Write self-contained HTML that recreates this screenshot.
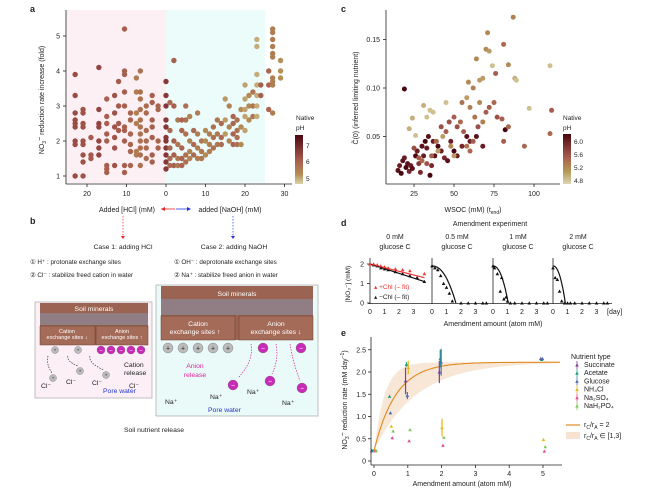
<!DOCTYPE html>
<html><head><meta charset="utf-8"><style>
html,body{margin:0;padding:0;background:#fff}
svg{display:block;font-family:"Liberation Sans",sans-serif}
text{fill:#222}
</style></head><body>
<svg id="fig" width="672" height="492" viewBox="0 0 672 492" xmlns="http://www.w3.org/2000/svg">
<g id="pa">
 <text x="30" y="12" font-size="9" font-weight="bold">a</text>
 <rect x="67" y="10" width="99" height="173" fill="#fdf0f5"/>
 <rect x="166" y="10" width="99" height="173" fill="#ebfcfb"/>
 <g id="aDots"></g>
 <line x1="66" y1="10" x2="66" y2="184" stroke="#222" stroke-width="0.8"/>
 <line x1="66" y1="184" x2="292" y2="184" stroke="#222" stroke-width="0.8"/>
 <g id="aAxes" font-size="7"></g>
 <text transform="translate(44,100) rotate(-90)" font-size="7" text-anchor="middle">NO<tspan font-size="5" dy="2">3</tspan><tspan dy="-4">−</tspan><tspan dy="2"> reduction rate increase (fold)</tspan></text>
 <text x="296" y="120" font-size="6.5">Native</text>
 <text x="296" y="130" font-size="6.5">pH</text>
 <rect x="295" y="135" width="8" height="49" fill="url(#gradA)"/>
 <text x="306" y="148" font-size="6.5">7</text><text x="306" y="164" font-size="6.5">6</text><text x="306" y="181" font-size="6.5">5</text>
 <text x="127" y="212" font-size="7" text-anchor="middle">Added [HCl] (mM)</text>
 <line x1="175" y1="209" x2="161" y2="209" stroke="#e22" stroke-width="0.8"/><path d="M161 209l4-2v4z" fill="#e22"/>
 <line x1="176" y1="209" x2="190" y2="209" stroke="#23d" stroke-width="0.8"/><path d="M191 209l-4-2v4z" fill="#23d"/>
 <text x="230" y="212" font-size="7" text-anchor="middle">added [NaOH] (mM)</text>
</g>
<g id="pb" font-size="6.8">
 <text x="30" y="224" font-size="9" font-weight="bold">b</text>
 <line x1="123" y1="216" x2="123" y2="237" stroke="#e22" stroke-dasharray="1.5,1.5" stroke-width="0.7"/>
 <line x1="233" y1="216" x2="233" y2="237" stroke="#23d" stroke-dasharray="1.5,1.5" stroke-width="0.7"/>
 <path d="M121 236l2 3 2-3z" fill="#e22"/><path d="M231 236l2 3 2-3z" fill="#23d"/>
 <text x="123" y="249" text-anchor="middle">Case 1: adding HCl</text>
 <text x="234" y="249" text-anchor="middle">Case 2: adding NaOH</text>
 <text x="30" y="264" font-size="6.3">① H⁺ : protonate exchange sites</text>
 <text x="30" y="277" font-size="6.3">② Cl⁻ : stabilize freed cation in water</text>
 <text x="174" y="264" font-size="6.3">① OH⁻ : deprotonate exchange sites</text>
 <text x="174" y="277" font-size="6.3">② Na⁺ : stabilize freed anion in water</text>
 <rect x="35" y="302" width="117" height="96" fill="#fcf0f6" stroke="#999" stroke-width="0.6"/>
 <rect x="40" y="303" width="108" height="42" fill="#9b6351"/>
 <rect x="40" y="313" width="108" height="12" fill="#8a8fa6" opacity="0.6"/>
 <text x="94" y="311" text-anchor="middle" fill="#fff" style="fill:#fff">Soil minerals</text>
 <rect x="40" y="326" width="55" height="19" fill="#a36b58" stroke="#6b3e30" stroke-width="0.5"/>
 <rect x="96" y="326" width="52" height="19" fill="#a36b58" stroke="#6b3e30" stroke-width="0.5"/>
 <text x="67" y="333" text-anchor="middle" font-size="5.5" style="fill:#fff">Cation</text>
 <text x="67" y="339" text-anchor="middle" font-size="5.5" style="fill:#fff">exchange sites ↓</text>
 <text x="122" y="333" text-anchor="middle" font-size="5.5" style="fill:#fff">Anion</text>
 <text x="122" y="339" text-anchor="middle" font-size="5.5" style="fill:#fff">exchange sites ↑</text>
 <g id="bLeft"></g>
 <text x="124" y="367">Cation</text><text x="124" y="375">release</text>
 <text x="103" y="393" font-size="6.8" style="fill:#2233cc">Pore water</text>
 <text x="41" y="388">Cl⁻</text><text x="66" y="384">Cl⁻</text><text x="92" y="385">Cl⁻</text><text x="129" y="388">Cl⁻</text>
 <rect x="156" y="285" width="162" height="131" fill="#eafaf9" stroke="#999" stroke-width="0.6"/>
 <rect x="161" y="286" width="152" height="54" fill="#9b6351"/>
 <rect x="161" y="299" width="152" height="16" fill="#8a8fa6" opacity="0.6"/>
 <text x="237" y="296" text-anchor="middle" style="fill:#fff">Soil minerals</text>
 <rect x="161" y="316" width="74" height="24" fill="#a36b58" stroke="#6b3e30" stroke-width="0.5"/>
 <rect x="239" y="316" width="74" height="24" fill="#a36b58" stroke="#6b3e30" stroke-width="0.5"/>
 <text x="198" y="326" text-anchor="middle" style="fill:#fff">Cation</text>
 <text x="195" y="334" text-anchor="middle" style="fill:#fff">exchange sites ↑</text>
 <text x="276" y="326" text-anchor="middle" style="fill:#fff">Anion</text>
 <text x="276" y="334" text-anchor="middle" style="fill:#fff">exchange sites ↓</text>
 <g id="bRight"></g>
 <text x="195" y="368" text-anchor="middle" style="fill:#e0229a">Anion</text>
 <text x="195" y="377" text-anchor="middle" style="fill:#e0229a">release</text>
 <text x="165" y="404">Na⁺</text><text x="210" y="399">Na⁺</text><text x="247" y="394">Na⁺</text><text x="282" y="405">Na⁺</text>
 <text x="208" y="412" style="fill:#2233cc">Pore water</text>
 <text x="154" y="432" text-anchor="middle">Soil nutrient release</text>
</g>
<g id="pc">
 <text x="341" y="12" font-size="9" font-weight="bold">c</text>
 <g id="cDots"></g>
 <line x1="386" y1="10" x2="386" y2="184" stroke="#222" stroke-width="0.8"/>
 <line x1="386" y1="184" x2="560" y2="184" stroke="#222" stroke-width="0.8"/>
 <g id="cAxes" font-size="7"></g>
 <text transform="translate(358,98) rotate(-90)" font-size="7" text-anchor="middle">C̃(0) (inferred limiting nutrient)</text>
 <text x="473" y="212" font-size="7" text-anchor="middle">WSOC (mM) (t<tspan font-size="5" dy="2">end</tspan><tspan dy="-2">)</tspan></text>
 <text x="563" y="120" font-size="6.5">Native</text><text x="563" y="130" font-size="6.5">pH</text>
 <rect x="563" y="134" width="8" height="50" fill="url(#gradC)"/>
 <text x="574" y="144" font-size="6.5">6.0</text><text x="574" y="157" font-size="6.5">5.6</text><text x="574" y="170" font-size="6.5">5.2</text><text x="574" y="183" font-size="6.5">4.8</text>
</g>
<g id="pd">
 <text x="341" y="226" font-size="9" font-weight="bold">d</text>
 <text x="490" y="226" font-size="7" text-anchor="middle">Amendment experiment</text>
 <g id="dMarks" font-size="7"></g>
 <text x="493" y="326" font-size="7" text-anchor="middle">Amendment amount (atom mM)</text>
</g>
<g id="pe">
 <text x="341" y="336" font-size="9" font-weight="bold">e</text>
 <g id="eMarks" font-size="7"></g>
 <line x1="371" y1="337" x2="371" y2="465" stroke="#222" stroke-width="0.8"/>
 <line x1="371" y1="465" x2="562" y2="465" stroke="#222" stroke-width="0.8"/>
 <text transform="translate(347,400) rotate(-90)" font-size="7" text-anchor="middle">NO<tspan font-size="5" dy="2">3</tspan><tspan dy="-4">−</tspan><tspan dy="2"> reduction rate (mM day</tspan><tspan font-size="5" dy="-3">−1</tspan><tspan dy="3">)</tspan></text>
 <text x="462" y="486" font-size="7" text-anchor="middle">Amendment amount (atom mM)</text>
 <g id="eLegend" font-size="7"></g>
</g>
<defs>
 <linearGradient id="gradA" x1="0" y1="0" x2="0" y2="1"><stop offset="0" stop-color="#4a0610"/><stop offset="0.5" stop-color="#a65a4d"/><stop offset="0.8" stop-color="#b48d55"/><stop offset="1" stop-color="#d9d2a8"/></linearGradient>
 <linearGradient id="gradC" x1="0" y1="0" x2="0" y2="1"><stop offset="0" stop-color="#4a0610"/><stop offset="0.45" stop-color="#a65a4d"/><stop offset="0.75" stop-color="#b49a55"/><stop offset="1" stop-color="#dcd6b4"/></linearGradient>
</defs>
</svg>
<script>
// ---------- Panel a data ----------
const aHclX=[23,21,19,17,15,13,12,10.5,9,7.5,6.5,5,3.5,2,0];
const aHclY=[[3.9,3.3,2.8,2.6,2.5,2.4,2.0,1.9,1.0],[2.9,2.8,2.5,2.4,2.0,1.9,1.6,1.4,1.0],[2.1,1.6,1.5],[4.1,2.9,2.5,2.4,2.0,1.8,1.6],[3.2,2.7,2.5,2.2,2.0,1.3,1.2,1.1],[3.3,2.8,2.4,2.1,1.8,1.3],[3.7,3.0,2.5,2.3],[5.2,4.0,3.9,3.4,3.0,2.4,2.3,2.0,1.3,1.1],[2.8,2.6,2.2,1.9,1.7,1.3],[3.8,3.4,2.8,2.5,1.7,1.6],[4.0,3.4,3.2,2.9,2.6,2.4,2.2,2.0,1.8,1.6,1.3],[3.0,2.8,2.3,2.0,1.8,1.5],[3.3,3.1,2.6,2.4,2.1,1.6,1.4],[3.0,2.9,2.0,1.8],[3.7,3.3,3.0,2.6,2.4,2.1,2.0,1.8,1.6,1.4,1.2]];
const aHclPH=[6.6,6.5,6.4,6.7,6.3,6.5,6.4,6.3,6.2,5.8,6.0,6.1,6.3,6.2,6.9];
const aNaohX=[1,2,3,4,5,6,7,8,9,10,11,12,13,14,15,16,17,18,19,20,21,22,23,24,26,27,29];
const aNaohY=[[3.1,2.3,1.8,1.5,1.3],[4.3,3.0,2.0,1.6,1.3],[2.6,1.9,1.5,1.3],[2.6,2.3,1.8,1.5,1.3],[3.0,2.6,2.2,1.6,1.4],[2.7,2.0,1.7,1.5],[2.3,1.9,1.6],[2.8,2.2,1.8,1.5],[2.0,1.7,1.5],[2.3,2.0,1.6],[2.2,1.9,1.7],[2.4,2.1,1.8],[2.6,2.2,1.9],[2.5,2.1,1.9],[3.2,2.6,2.2],[3.0,2.4,2.0],[2.7,2.5,2.2,1.9],[2.6,2.3,2.1,1.9],[2.9,2.4,1.9],[3.6,3.2,2.9,2.7,2.3],[3.3,3.0,2.6],[3.4,3.0,2.7],[4.9,4.7,3.9,3.6,3.3,3.0,2.7],[3.6,3.3],[4.0,3.6,2.9],[5.2,5.1,4.9,4.7,4.5,4.4,3.8,3.7,3.6,2.8],[4.3,4.0,3.8]];
const aNaohPH=[6.1,6.3,5.9,6.2,6.0,5.7,6.1,5.8,5.9,5.6,5.8,6.0,5.9,6.1,5.4,5.7,6.2,6.0,5.6,5.3,5.6,5.9,5.2,6.3,6.2,5.8,5.5];
// ---------- Panel c data ----------
const cX=[15,16,17,18,19,20,21,22,23,24,26,27,28,29,30,31,32,33,34,35,36,37,38,40,42,44,46,48,50,52,55,58,60,64,68,82,19,25,28,30,33,36,39,42,45,47,50,52,54,56,58,60,62,65,66,70,72,75,77,80,81,84,88,94,110,111,63,68,55,60,62,22,24,26,31,33,35,37,43,45,58,59,64,66,68,70,71,72,74,76,81,84,87,89,97,110,50,48,40];
const cY=[.015,.02,.012,.025,.028,.018,.022,.014,.02,.017,.03,.035,.022,.013,.04,.03,.045,.038,.05,.01,.02,.045,.03,.04,.035,.028,.025,.045,.035,.03,.04,.05,.045,.05,.04,.057,.099,.038,.028,.025,.022,.03,.045,.06,.055,.065,.07,.06,.065,.055,.04,.035,.045,.06,.085,.075,.08,.085,.07,.068,.045,.06,.11,.04,.053,.077,.07,.065,.085,.08,.1,.058,.069,.051,.082,.07,.077,.075,.05,.085,.09,.106,.13,.108,.11,.14,.157,.138,.123,.115,.145,.124,.173,.108,.079,.123,.03,.04,.035];
const cPH=[6.1,6.0,6.2,6.1,6.0,6.2,6.1,5.9,6.0,6.1,6.2,6.0,5.8,5.9,6.1,6.0,6.2,6.0,6.1,6.2,5.9,6.0,6.1,6.2,6.0,5.9,6.1,6.0,6.2,6.0,5.9,6.1,6.0,6.1,6.0,6.2,6.2,5.6,5.5,5.4,5.6,5.5,5.4,5.6,5.5,5.6,5.5,5.6,5.4,5.5,5.3,5.4,5.5,5.6,5.1,5.5,5.5,5.4,5.6,5.5,5.5,5.4,4.9,5.4,5.4,5.5,5.3,5.2,5.3,5.2,5.2,4.9,4.9,4.8,4.9,4.8,4.8,4.8,5.0,4.8,5.0,5.1,5.1,5.0,5.0,5.1,5.1,5.0,4.8,5.5,5.4,5.1,5.2,4.8,4.8,4.8,5.0,5.1,5.0];
// ---------- Panel d data ----------
const dTitles=["0 mM","0.5 mM","1 mM","2 mM"];
const dDays=[[0,0.25,0.5,0.75,1.0,1.25,1.75,2.25,2.75,3.25,3.75],[0,0.2,0.4,0.6,0.8,1.0,1.2,1.4,2.0,2.5,3.0,3.5,3.75],[0,0.1,0.3,0.5,0.6,0.75,0.9,1.0,1.2,1.5,2.0,2.5,3.0,3.5,3.75],[0,0.15,0.3,0.45,0.6,0.8,1.0,1.2,1.5,2.0,2.5,3.0,3.5,3.75]];
const dBlack=[[2.0,1.95,1.9,1.8,1.75,1.7,1.6,1.5,1.4,1.3,1.1],[1.9,1.8,1.7,1.4,1.0,0.8,0.5,0.1,0,0,0,0,0],[1.9,1.8,1.5,0.6,1.3,0.2,0.3,0.1,0,0,0,0,0,0,0],[1.8,1.3,1.2,0.6,0.1,0,0,0,0,0,0,0,0,0]];
const dRedDays=[0,0.25,0.5,0.75,1.0,1.25,1.75,2.25,2.75,3.75];
const dRed=[2.0,2.0,1.95,1.9,1.85,1.8,1.75,1.7,1.65,1.5];
const dFitEnd=[null,1.65,1.05,0.85];
// ---------- Panel e data ----------
const eNames=["Succinate","Acetate","Glucose","NH₄Cl","Na₂SO₄","NaH₂PO₄"];
const eColors=["#7b3f98","#1a9c7f","#4a6fb5","#e8b61a","#e0508f","#7fc65a"];
const eX=[0,0.5,1,2,5];
const eY=[[0.23,null,1.8,2.0,2.3],[0.23,1.45,2.17,2.3,2.28],[0.23,1.08,1.47,2.22,2.3],[0.23,0.78,2.1,0.75,0.48],[0.23,0.52,0.45,0.35,0.22],[0.23,0.67,0.7,0.53,0.32]];
const eErr=[[0,0,0.3,0.25,0.03],[0,0.03,0.05,0.2,0.03],[0,0.03,0.08,0.3,0.03],[0,0.03,0.15,0.2,0.03],[0,0.02,0.02,0.03,0.02],[0,0.02,0.02,0.03,0.02]];
const eYTicks=[0,0.5,1.0,1.5,2.0,2.5];
const eXTicks=[0,1,2,3,4,5];

const NS="http://www.w3.org/2000/svg";
function mk(tag,attrs,parent){const e=document.createElementNS(NS,tag);for(const k in attrs)e.setAttribute(k,attrs[k]);parent.appendChild(e);return e;}
function lerp(a,b,t){return a+(b-a)*t;}
function phColor(t){t=Math.max(0,Math.min(1,t));const st=[[0,[217,210,168]],[0.25,[180,141,85]],[0.55,[166,90,77]],[0.8,[120,40,45]],[1,[74,6,16]]];
 for(let i=1;i<st.length;i++){if(t<=st[i][0]){const u=(t-st[i-1][0])/(st[i][0]-st[i-1][0]);const a=st[i-1][1],b=st[i][1];return `rgb(${Math.round(lerp(a[0],b[0],u))},${Math.round(lerp(a[1],b[1],u))},${Math.round(lerp(a[2],b[2],u))})`;}}return "rgb(74,6,16)";}

// Panel a
const axA=v=>166+v*3.95, ayA=v=>176-(v-1)*35;
const aD=document.getElementById('aDots');
aHclX.forEach((x,i)=>aHclY[i].forEach(y=>{const c=mk('circle',{cx:axA(-x),cy:ayA(y),r:2.7,fill:phColor((aHclPH[i]-4.8)/2.9)},aD);

}));
aNaohX.forEach((x,i)=>aNaohY[i].forEach(y=>{const c=mk('circle',{cx:axA(x),cy:ayA(y),r:2.7,fill:phColor((aNaohPH[i]-4.8)/2.9)},aD);

}));
const aA=document.getElementById('aAxes');
[-20,-10,0,10,20,30].forEach(v=>{mk('line',{x1:axA(v),x2:axA(v),y1:184,y2:187,stroke:'#222','stroke-width':0.8},aA);const t=mk('text',{x:axA(v),y:196,'text-anchor':'middle'},aA);t.textContent=Math.abs(v);

});
[1,2,3,4,5].forEach(v=>{mk('line',{x1:63,x2:66,y1:ayA(v),y2:ayA(v),stroke:'#222','stroke-width':0.8},aA);const t=mk('text',{x:60,y:ayA(v)+2.5,'text-anchor':'end'},aA);t.textContent=v;

});

// Panel c
const axC=v=>374+v*1.6, ayC=v=>185-v*970;
const cD=document.getElementById('cDots');
cX.forEach((x,i)=>{const c=mk('circle',{cx:axC(x),cy:ayC(cY[i]),r:2.5,fill:phColor((cPH[i]-4.7)/1.5)},cD);

});
const cA=document.getElementById('cAxes');
[25,50,75,100].forEach(v=>{mk('line',{x1:axC(v),x2:axC(v),y1:184,y2:187,stroke:'#222','stroke-width':0.8},cA);const t=mk('text',{x:axC(v),y:196,'text-anchor':'middle'},cA);t.textContent=v;

});
[0.05,0.10,0.15].forEach(v=>{mk('line',{x1:383,x2:386,y1:ayC(v),y2:ayC(v),stroke:'#222','stroke-width':0.8},cA);const t=mk('text',{x:380,y:ayC(v)+2.5,'text-anchor':'end'},cA);t.textContent=v.toFixed(2);

});

// Panel d
const dG=document.getElementById('dMarks');
const dX0=[370,432,493,553], dDay=14.5, ayD=v=>303-v*19.5;
function tri(x,y,s,col,par){return mk('path',{d:`M${x} ${y-s}L${x+s} ${y+s*0.8}L${x-s} ${y+s*0.8}Z`,fill:col},par);}
mk('line',{x1:368,x2:612,y1:303.5,y2:303.5,stroke:'#222','stroke-width':0.8},dG);
[0,1,2].forEach(v=>{mk('line',{x1:367,x2:370,y1:ayD(v),y2:ayD(v),stroke:'#222','stroke-width':0.8},dG);const t=mk('text',{x:364,y:ayD(v)+2.5,'text-anchor':'end'},dG);t.textContent=v;});
const yl=mk('text',{transform:'translate(350,284) rotate(-90)','text-anchor':'middle','font-size':6.5},dG);yl.textContent='[NO₃⁻] (mM)';
dX0.forEach((x0,k)=>{
 mk('line',{x1:x0,x2:x0,y1:258,y2:304,stroke:'#222','stroke-width':0.8},dG);
 const t1=mk('text',{x:x0+25,y:239,'text-anchor':'middle'},dG);t1.textContent=dTitles[k];
 const t2=mk('text',{x:x0+25,y:249,'text-anchor':'middle'},dG);t2.textContent='glucose C';
 [0,1,2,3].forEach(v=>{const t=mk('text',{x:x0+v*dDay,y:314,'text-anchor':'middle'},dG);t.textContent=v;});
 dDays[k].forEach((d,i)=>{const p=tri(x0+d*dDay,ayD(dBlack[k][i]),1.8,'#111',dG);
 
 });
 if(k===0){
  mk('line',{x1:x0,y1:ayD(2.0),x2:x0+3.75*dDay,y2:ayD(1.3),stroke:'#e33','stroke-width':1.2},dG);
  mk('line',{x1:x0,y1:ayD(2.0),x2:x0+3.75*dDay,y2:ayD(1.1),stroke:'#111','stroke-width':1.2},dG);
  dRedDays.forEach((d,i)=>{const p=tri(x0+d*dDay,ayD(dRed[i]),1.8,'#e33',dG);
  
  });
 } else {
  const T=dFitEnd[k];let s='';for(let j=0;j<=40;j++){const t=T*j/40;const y=1.9*(1-Math.pow(t/T,2.2));s+=(j?'L':'M')+(x0+t*dDay).toFixed(1)+' '+ayD(y).toFixed(1);}
  mk('path',{d:s,fill:'none',stroke:'#111','stroke-width':1.2},dG);
 }
});
const dl1=mk('text',{x:374,y:289,'font-size':6.5},dG);dl1.innerHTML='<tspan style="fill:#e33">▴ +Chl (– fit)</tspan>';
const dl2=mk('text',{x:374,y:299,'font-size':6.5},dG);dl2.textContent='▴ −Chl (– fit)';
const dd=mk('text',{x:607,y:314},dG);dd.textContent='[day]';

// Panel e
const axE=v=>374+v*33.8, ayE=v=>461-v*44.5;
const eG=document.getElementById('eMarks');
// model band and curve
function model(x,r){return 0.23+(2.22-0.23)*(1-Math.exp(-r*x));}
let up='',lo='';for(let j=0;j<=60;j++){const x=5.5*j/60;up+=(j?'L':'M')+axE(x).toFixed(1)+' '+ayE(model(x,3.2)).toFixed(1);}
for(let j=60;j>=0;j--){const x=5.5*j/60;lo+='L'+axE(x).toFixed(1)+' '+ayE(model(x,0.8)).toFixed(1);}
mk('path',{d:up+lo+'Z',fill:'#f7e3cf',opacity:0.85},eG);
let cv='';for(let j=0;j<=60;j++){const x=5.5*j/60;cv+=(j?'L':'M')+axE(x).toFixed(1)+' '+ayE(model(x,1.55)).toFixed(1);}
mk('path',{d:cv,fill:'none',stroke:'#e08a22','stroke-width':1.1},eG);
eYTicks.forEach(v=>{mk('line',{x1:368,x2:371,y1:ayE(v),y2:ayE(v),stroke:'#222','stroke-width':0.8},eG);const t=mk('text',{x:366,y:ayE(v)+2.5,'text-anchor':'end'},eG);t.textContent=v===0?'0':v.toFixed(1);

});
eXTicks.forEach(v=>{mk('line',{x1:axE(v),x2:axE(v),y1:465,y2:468,stroke:'#222','stroke-width':0.8},eG);const t=mk('text',{x:axE(v),y:476,'text-anchor':'middle'},eG);t.textContent=v;

});
eY.forEach((ys,s)=>ys.forEach((y,i)=>{if(y===null)return;const x=axE(eX[i])+(s-2.5)*0.9;
 if(eErr[s][i]>0.04)mk('line',{x1:x,x2:x,y1:ayE(y-eErr[s][i]),y2:ayE(y+eErr[s][i]),stroke:eColors[s],'stroke-width':1.2},eG);
 const p=tri(x,ayE(y),1.8,eColors[s],eG);
 
 }));
const eL=document.getElementById('eLegend');
const lt=mk('text',{x:571,y:359},eL);lt.textContent='Nutrient type';
eNames.forEach((n,i)=>{const y=367+i*8.2;tri(577,y-2,1.8,eColors[i],eL);mk('line',{x1:577,x2:577,y1:y-6,y2:y+2,stroke:eColors[i],'stroke-width':0.8},eL);const t=mk('text',{x:584,y:y},eL);t.textContent=n;

});
mk('line',{x1:566,x2:580,y1:425,y2:425,stroke:'#e08a22','stroke-width':1.2},eL);
const l1=mk('text',{x:584,y:427},eL);l1.innerHTML='r<tspan font-size="5" dy="2">C</tspan><tspan dy="-2">/r</tspan><tspan font-size="5" dy="2">A</tspan><tspan dy="-2"> = 2</tspan>';
mk('rect',{x:566,y:432,width:14,height:7,fill:'#f7e3cf'},eL);
const l2=mk('text',{x:584,y:438},eL);l2.innerHTML='r<tspan font-size="5" dy="2">C</tspan><tspan dy="-2">/r</tspan><tspan font-size="5" dy="2">A</tspan><tspan dy="-2"> ∈ [1,3]</tspan>';

// Panel b ions
function ion(x,y,r,col,sign,par){mk('circle',{cx:x,cy:y,r:r,fill:col,stroke:'#555','stroke-width':0.3},par);const t=mk('text',{x:x,y:y+r*0.45,'text-anchor':'middle','font-size':r*1.4},par);t.textContent=sign;t.style.fill=col==='#c92bb8'?'#fff':'#222';}
const bL=document.getElementById('bLeft');
[55,78].forEach(x=>ion(x,350,3.5,'#bbb','+',bL));
[101,111,121,131,141].forEach(x=>ion(x,350,4,'#c92bb8','−',bL));
[[53,378],[80,371],[106,375]].forEach(p=>ion(p[0],p[1],3.5,'#bbb','+',bL));
[[48,356,52,373],[68,356,78,366],[90,356,104,370]].forEach(p=>mk('path',{d:`M${p[0]} ${p[1]}Q${p[0]-2} ${(p[1]+p[3])/2} ${p[2]} ${p[3]}`,fill:'none',stroke:'#333','stroke-width':0.7,'stroke-dasharray':'1.5,1.2'},bL));
const bR=document.getElementById('bRight');
[168,183,198,213,228].forEach(x=>ion(x,348,5,'#bbb','+',bR));
[263,301].forEach(x=>ion(x,348,5,'#c92bb8','−',bR));
[[233,385],[270,381],[302,388]].forEach(p=>ion(p[0],p[1],5,'#c92bb8','−',bR));
[[251,344,238,378],[276,344,272,374],[290,344,300,381]].forEach(p=>mk('path',{d:`M${p[0]} ${p[1]}Q${p[0]+3} ${(p[1]+p[3])/2} ${p[2]} ${p[3]}`,fill:'none',stroke:'#e0229a','stroke-width':0.7,'stroke-dasharray':'1.5,1.2'},bR));
</script>
</body></html>
